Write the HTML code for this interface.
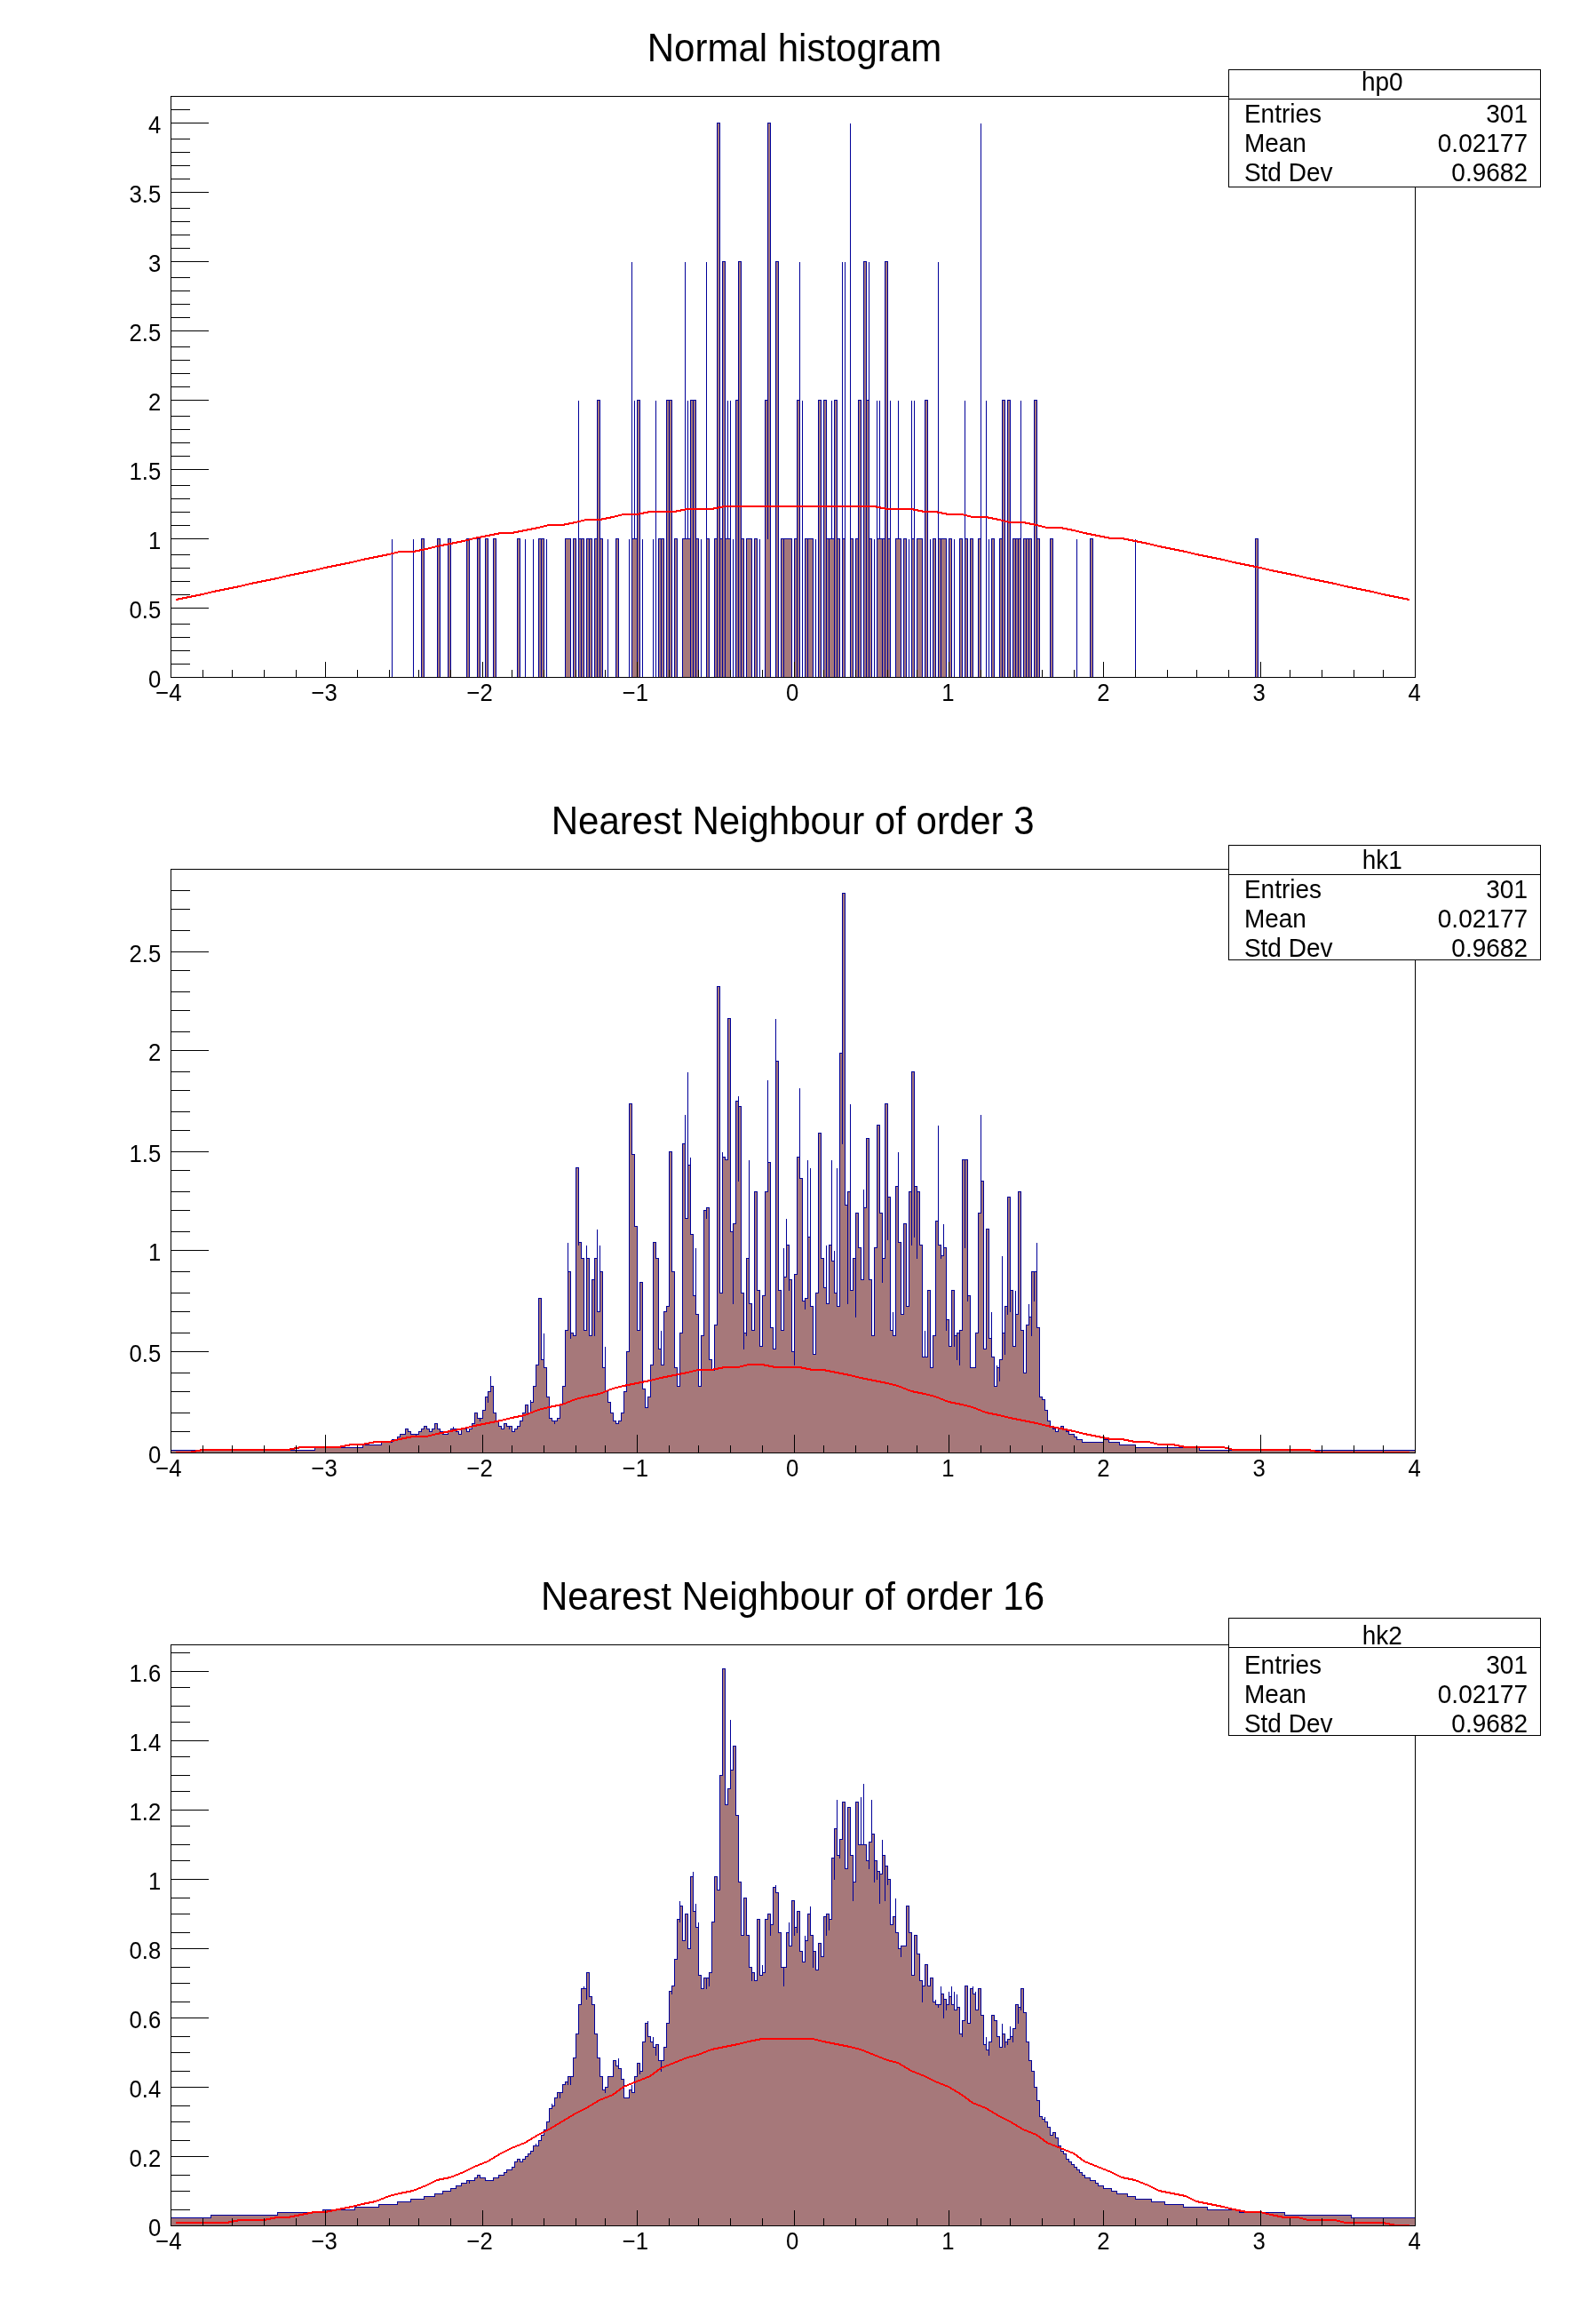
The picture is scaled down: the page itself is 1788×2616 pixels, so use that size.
<!DOCTYPE html><html><head><meta charset="utf-8"><style>html,body{margin:0;padding:0;background:#fff;width:1788px;height:2616px;overflow:hidden}text{will-change:transform}</style></head><body><svg width="1788" height="2616" viewBox="0 0 1788 2616" style="display:block;font-family:'Liberation Sans', sans-serif">
<rect x="0" y="0" width="1788" height="2616" fill="#fff"/>
<defs><clipPath id="cp0"><rect x="192" y="108" width="1402" height="655"/></clipPath><clipPath id="cp1"><rect x="192" y="978" width="1402" height="658"/></clipPath><clipPath id="cp2"><rect x="192" y="1851" width="1402" height="655"/></clipPath></defs>
<g clip-path="url(#cp0)">
<path d="M192.5,762.5L192.5,762.5L441.5,762.5L441.5,606.5L441.5,762.5L465.5,762.5L465.5,606.5L465.5,762.5L474.5,762.5L474.5,606.5L477.5,606.5L477.5,762.5L492.5,762.5L492.5,606.5L495.5,606.5L495.5,762.5L504.5,762.5L504.5,606.5L507.5,606.5L507.5,762.5L525.5,762.5L525.5,606.5L528.5,606.5L528.5,762.5L537.5,762.5L537.5,606.5L540.5,606.5L540.5,762.5L546.5,762.5L546.5,606.5L549.5,606.5L549.5,762.5L555.5,762.5L555.5,606.5L558.5,606.5L558.5,762.5L582.5,762.5L582.5,606.5L585.5,606.5L585.5,762.5L591.5,762.5L591.5,606.5L591.5,762.5L600.5,762.5L600.5,606.5L600.5,762.5L606.5,762.5L606.5,606.5L609.5,606.5L609.5,762.5L609.5,606.5L612.5,606.5L612.5,762.5L615.5,762.5L615.5,606.5L615.5,762.5L636.5,762.5L636.5,606.5L642.5,606.5L642.5,762.5L645.5,762.5L645.5,606.5L648.5,606.5L648.5,762.5L651.5,762.5L651.5,450.5L651.5,606.5L654.5,606.5L654.5,762.5L654.5,606.5L657.5,606.5L657.5,762.5L660.5,762.5L660.5,606.5L663.5,606.5L663.5,762.5L663.5,606.5L666.5,606.5L666.5,762.5L669.5,762.5L669.5,606.5L672.5,606.5L672.5,762.5L672.5,450.5L675.5,450.5L675.5,762.5L675.5,606.5L678.5,606.5L678.5,762.5L684.5,762.5L684.5,606.5L684.5,762.5L693.5,762.5L693.5,606.5L696.5,606.5L696.5,762.5L708.5,762.5L708.5,606.5L708.5,762.5L711.5,762.5L711.5,294.5L711.5,606.5L714.5,606.5L714.5,450.5L714.5,606.5L717.5,606.5L717.5,762.5L717.5,450.5L720.5,450.5L720.5,762.5L723.5,762.5L723.5,606.5L723.5,762.5L735.5,762.5L735.5,606.5L735.5,762.5L738.5,762.5L738.5,450.5L738.5,762.5L741.5,762.5L741.5,606.5L744.5,606.5L744.5,762.5L744.5,606.5L747.5,606.5L747.5,762.5L750.5,762.5L750.5,450.5L753.5,450.5L753.5,762.5L753.5,450.5L756.5,450.5L756.5,762.5L759.5,762.5L759.5,606.5L762.5,606.5L762.5,762.5L768.5,762.5L768.5,606.5L771.5,606.5L771.5,294.5L771.5,606.5L774.5,606.5L774.5,450.5L774.5,606.5L777.5,606.5L777.5,762.5L777.5,450.5L780.5,450.5L780.5,762.5L780.5,450.5L783.5,450.5L783.5,762.5L783.5,606.5L786.5,606.5L786.5,762.5L789.5,762.5L789.5,606.5L789.5,762.5L795.5,762.5L795.5,294.5L795.5,606.5L798.5,606.5L798.5,762.5L804.5,762.5L804.5,606.5L807.5,606.5L807.5,762.5L807.5,138.5L810.5,138.5L810.5,762.5L810.5,606.5L813.5,606.5L813.5,762.5L813.5,294.5L816.5,294.5L816.5,762.5L816.5,606.5L819.5,606.5L819.5,450.5L819.5,606.5L822.5,606.5L822.5,450.5L822.5,762.5L825.5,762.5L825.5,606.5L825.5,762.5L828.5,762.5L828.5,450.5L831.5,450.5L831.5,762.5L831.5,294.5L834.5,294.5L834.5,762.5L834.5,606.5L837.5,606.5L837.5,762.5L840.5,762.5L840.5,606.5L846.5,606.5L846.5,762.5L849.5,762.5L849.5,606.5L852.5,606.5L852.5,762.5L855.5,762.5L855.5,606.5L855.5,762.5L861.5,762.5L861.5,450.5L864.5,450.5L864.5,606.5L864.5,138.5L867.5,138.5L867.5,762.5L873.5,762.5L873.5,294.5L876.5,294.5L876.5,762.5L879.5,762.5L879.5,606.5L882.5,606.5L882.5,762.5L882.5,606.5L891.5,606.5L891.5,762.5L894.5,762.5L894.5,606.5L897.5,606.5L897.5,762.5L897.5,450.5L900.5,450.5L900.5,294.5L900.5,762.5L903.5,762.5L903.5,450.5L903.5,762.5L906.5,762.5L906.5,606.5L909.5,606.5L909.5,762.5L909.5,606.5L915.5,606.5L915.5,762.5L918.5,762.5L918.5,606.5L918.5,762.5L921.5,762.5L921.5,450.5L924.5,450.5L924.5,762.5L927.5,762.5L927.5,450.5L930.5,450.5L930.5,762.5L930.5,606.5L933.5,606.5L933.5,762.5L933.5,606.5L936.5,606.5L936.5,450.5L936.5,606.5L939.5,606.5L939.5,762.5L939.5,450.5L942.5,450.5L942.5,762.5L942.5,606.5L945.5,606.5L945.5,762.5L948.5,762.5L948.5,294.5L948.5,606.5L951.5,606.5L951.5,294.5L951.5,762.5L957.5,762.5L957.5,138.5L957.5,762.5L957.5,606.5L960.5,606.5L960.5,762.5L963.5,762.5L963.5,606.5L966.5,606.5L966.5,762.5L966.5,450.5L969.5,450.5L969.5,762.5L972.5,762.5L972.5,294.5L975.5,294.5L975.5,762.5L975.5,450.5L978.5,450.5L978.5,294.5L978.5,762.5L978.5,606.5L981.5,606.5L981.5,762.5L984.5,762.5L984.5,606.5L984.5,762.5L987.5,762.5L987.5,450.5L987.5,606.5L990.5,606.5L990.5,450.5L990.5,606.5L993.5,606.5L993.5,762.5L993.5,606.5L996.5,606.5L996.5,762.5L996.5,294.5L999.5,294.5L999.5,762.5L999.5,606.5L1002.5,606.5L1002.5,450.5L1002.5,762.5L1008.5,762.5L1008.5,606.5L1011.5,606.5L1011.5,450.5L1011.5,606.5L1014.5,606.5L1014.5,762.5L1017.5,762.5L1017.5,606.5L1020.5,606.5L1020.5,762.5L1023.5,762.5L1023.5,606.5L1023.5,762.5L1026.5,762.5L1026.5,450.5L1026.5,606.5L1029.5,606.5L1029.5,450.5L1029.5,762.5L1032.5,762.5L1032.5,606.5L1038.5,606.5L1038.5,762.5L1041.5,762.5L1041.5,450.5L1044.5,450.5L1044.5,762.5L1047.5,762.5L1047.5,606.5L1047.5,762.5L1050.5,762.5L1050.5,606.5L1053.5,606.5L1053.5,762.5L1056.5,762.5L1056.5,294.5L1056.5,606.5L1059.5,606.5L1059.5,762.5L1059.5,606.5L1065.5,606.5L1065.5,762.5L1068.5,762.5L1068.5,606.5L1071.5,606.5L1071.5,762.5L1074.5,762.5L1074.5,606.5L1074.5,762.5L1080.5,762.5L1080.5,606.5L1083.5,606.5L1083.5,762.5L1086.5,762.5L1086.5,450.5L1086.5,606.5L1089.5,606.5L1089.5,762.5L1092.5,762.5L1092.5,606.5L1095.5,606.5L1095.5,762.5L1101.5,762.5L1101.5,606.5L1104.5,606.5L1104.5,138.5L1104.5,762.5L1110.5,762.5L1110.5,450.5L1110.5,762.5L1113.5,762.5L1113.5,606.5L1113.5,762.5L1116.5,762.5L1116.5,606.5L1119.5,606.5L1119.5,762.5L1125.5,762.5L1125.5,606.5L1128.5,606.5L1128.5,762.5L1128.5,450.5L1131.5,450.5L1131.5,762.5L1134.5,762.5L1134.5,450.5L1137.5,450.5L1137.5,762.5L1140.5,762.5L1140.5,606.5L1143.5,606.5L1143.5,762.5L1143.5,606.5L1146.5,606.5L1146.5,762.5L1146.5,606.5L1149.5,606.5L1149.5,450.5L1149.5,762.5L1152.5,762.5L1152.5,606.5L1155.5,606.5L1155.5,762.5L1155.5,606.5L1158.5,606.5L1158.5,762.5L1158.5,606.5L1161.5,606.5L1161.5,762.5L1164.5,762.5L1164.5,450.5L1167.5,450.5L1167.5,762.5L1167.5,606.5L1170.5,606.5L1170.5,762.5L1182.5,762.5L1182.5,606.5L1185.5,606.5L1185.5,762.5L1212.5,762.5L1212.5,606.5L1212.5,762.5L1227.5,762.5L1227.5,606.5L1230.5,606.5L1230.5,762.5L1278.5,762.5L1278.5,606.5L1278.5,762.5L1413.5,762.5L1413.5,606.5L1416.5,606.5L1416.5,762.5L1593.5,762.5L1593.5,762.5Z" fill="#a6787a" stroke="#000099" stroke-width="1" shape-rendering="crispEdges"/>
<path d="M198,675 L213,672 L228,669 L240,666 L255,663 L270,660 L282,657 L297,654 L312,651 L324,648 L339,645 L354,642 L366,639 L381,636 L396,633 L408,630 L423,627 L438,624 L450,621 L465,621 L480,618 L492,615 L507,612 L522,609 L534,606 L549,603 L564,600 L576,600 L591,597 L606,594 L618,591 L633,591 L648,588 L660,585 L675,585 L690,582 L702,579 L717,579 L732,576 L744,576 L759,576 L774,573 L786,573 L801,573 L816,570 L831,570 L843,570 L858,570 L873,570 L885,570 L900,570 L915,570 L927,570 L942,570 L957,570 L969,570 L984,570 L999,573 L1011,573 L1026,573 L1041,576 L1053,576 L1068,579 L1083,579 L1095,582 L1110,582 L1125,585 L1137,588 L1152,588 L1167,591 L1179,594 L1194,594 L1209,597 L1221,600 L1236,603 L1251,606 L1263,606 L1278,609 L1293,612 L1305,615 L1320,618 L1335,621 L1347,624 L1362,627 L1377,630 L1389,633 L1404,636 L1419,639 L1431,642 L1446,645 L1461,648 L1473,651 L1488,654 L1503,657 L1515,660 L1530,663 L1545,666 L1557,669 L1572,672 L1587,675" fill="none" stroke="#ff0000" stroke-width="2" stroke-linejoin="miter" shape-rendering="crispEdges"/>
</g>
<rect x="192.5" y="108.5" width="1401.0" height="654.0" fill="none" stroke="#000" stroke-width="1" shape-rendering="crispEdges"/>
<path d="M192.5,762.5h42 M192.5,747.5h21 M192.5,732.5h21 M192.5,717.5h21 M192.5,702.5h21 M192.5,684.5h42 M192.5,669.5h21 M192.5,654.5h21 M192.5,639.5h21 M192.5,624.5h21 M192.5,606.5h42 M192.5,591.5h21 M192.5,576.5h21 M192.5,561.5h21 M192.5,546.5h21 M192.5,528.5h42 M192.5,513.5h21 M192.5,498.5h21 M192.5,483.5h21 M192.5,468.5h21 M192.5,450.5h42 M192.5,435.5h21 M192.5,420.5h21 M192.5,405.5h21 M192.5,390.5h21 M192.5,372.5h42 M192.5,357.5h21 M192.5,342.5h21 M192.5,327.5h21 M192.5,312.5h21 M192.5,294.5h42 M192.5,279.5h21 M192.5,264.5h21 M192.5,249.5h21 M192.5,234.5h21 M192.5,216.5h42 M192.5,201.5h21 M192.5,186.5h21 M192.5,171.5h21 M192.5,156.5h21 M192.5,138.5h42 M192.5,123.5h21 M192.5,108.5h21 M192.5,762.5v-18 M228.5,762.5v-9 M261.5,762.5v-9 M297.5,762.5v-9 M333.5,762.5v-9 M366.5,762.5v-18 M402.5,762.5v-9 M438.5,762.5v-9 M471.5,762.5v-9 M507.5,762.5v-9 M543.5,762.5v-18 M576.5,762.5v-9 M612.5,762.5v-9 M648.5,762.5v-9 M681.5,762.5v-9 M717.5,762.5v-18 M753.5,762.5v-9 M786.5,762.5v-9 M822.5,762.5v-9 M858.5,762.5v-9 M894.5,762.5v-18 M927.5,762.5v-9 M963.5,762.5v-9 M999.5,762.5v-9 M1032.5,762.5v-9 M1068.5,762.5v-18 M1104.5,762.5v-9 M1137.5,762.5v-9 M1173.5,762.5v-9 M1209.5,762.5v-9 M1242.5,762.5v-18 M1278.5,762.5v-9 M1314.5,762.5v-9 M1347.5,762.5v-9 M1383.5,762.5v-9 M1419.5,762.5v-18 M1452.5,762.5v-9 M1488.5,762.5v-9 M1524.5,762.5v-9 M1557.5,762.5v-9 M1593.5,762.5v-18" stroke="#000" stroke-width="1" fill="none" shape-rendering="crispEdges"/>
<text x="181.20" y="0" transform="translate(0,774.00) scale(1,1.06)" font-size="25.7" text-anchor="end">0</text>
<text x="181.20" y="0" transform="translate(0,696.00) scale(1,1.06)" font-size="25.7" text-anchor="end">0.5</text>
<text x="181.20" y="0" transform="translate(0,618.00) scale(1,1.06)" font-size="25.7" text-anchor="end">1</text>
<text x="181.20" y="0" transform="translate(0,540.00) scale(1,1.06)" font-size="25.7" text-anchor="end">1.5</text>
<text x="181.20" y="0" transform="translate(0,462.00) scale(1,1.06)" font-size="25.7" text-anchor="end">2</text>
<text x="181.20" y="0" transform="translate(0,384.00) scale(1,1.06)" font-size="25.7" text-anchor="end">2.5</text>
<text x="181.20" y="0" transform="translate(0,306.00) scale(1,1.06)" font-size="25.7" text-anchor="end">3</text>
<text x="181.20" y="0" transform="translate(0,228.00) scale(1,1.06)" font-size="25.7" text-anchor="end">3.5</text>
<text x="181.20" y="0" transform="translate(0,150.00) scale(1,1.06)" font-size="25.7" text-anchor="end">4</text>
<text x="190.00" y="0" transform="translate(0,788.80) scale(1,1.06)" font-size="25.7" text-anchor="middle">−4</text>
<text x="365.12" y="0" transform="translate(0,788.80) scale(1,1.06)" font-size="25.7" text-anchor="middle">−3</text>
<text x="540.25" y="0" transform="translate(0,788.80) scale(1,1.06)" font-size="25.7" text-anchor="middle">−2</text>
<text x="715.38" y="0" transform="translate(0,788.80) scale(1,1.06)" font-size="25.7" text-anchor="middle">−1</text>
<text x="892.20" y="0" transform="translate(0,788.80) scale(1,1.06)" font-size="25.7" text-anchor="middle">0</text>
<text x="1067.33" y="0" transform="translate(0,788.80) scale(1,1.06)" font-size="25.7" text-anchor="middle">1</text>
<text x="1242.45" y="0" transform="translate(0,788.80) scale(1,1.06)" font-size="25.7" text-anchor="middle">2</text>
<text x="1417.58" y="0" transform="translate(0,788.80) scale(1,1.06)" font-size="25.7" text-anchor="middle">3</text>
<text x="1592.70" y="0" transform="translate(0,788.80) scale(1,1.06)" font-size="25.7" text-anchor="middle">4</text>
<text x="894.45" y="0" transform="translate(0,68.80) scale(1,1.06)" font-size="42" text-anchor="middle">Normal histogram</text>
<rect x="1383.5" y="78.5" width="351.0" height="132.0" fill="#fff" stroke="#000" stroke-width="1" shape-rendering="crispEdges"/>
<path d="M1383.5,111.5H1734.5" stroke="#000" stroke-width="1" shape-rendering="crispEdges"/>
<text x="1556.30" y="0" transform="translate(0,101.70) scale(1,1.06)" font-size="28" text-anchor="middle">hp0</text>
<text x="1400.90" y="0" transform="translate(0,137.80) scale(1,1.06)" font-size="28" text-anchor="start">Entries</text>
<text x="1720.00" y="0" transform="translate(0,137.80) scale(1,1.06)" font-size="28" text-anchor="end">301</text>
<text x="1400.90" y="0" transform="translate(0,170.70) scale(1,1.06)" font-size="28" text-anchor="start">Mean</text>
<text x="1720.00" y="0" transform="translate(0,170.70) scale(1,1.06)" font-size="28" text-anchor="end">0.02177</text>
<text x="1400.90" y="0" transform="translate(0,203.60) scale(1,1.06)" font-size="28" text-anchor="start">Std Dev</text>
<text x="1720.00" y="0" transform="translate(0,203.60) scale(1,1.06)" font-size="28" text-anchor="end">0.9682</text>
<g clip-path="url(#cp1)">
<path d="M192.5,1635.5L192.5,1632.5L354.5,1632.5L354.5,1629.5L408.5,1629.5L408.5,1626.5L429.5,1626.5L429.5,1623.5L441.5,1623.5L441.5,1620.5L447.5,1620.5L447.5,1617.5L450.5,1617.5L450.5,1614.5L456.5,1614.5L456.5,1608.5L459.5,1608.5L459.5,1611.5L462.5,1611.5L462.5,1614.5L468.5,1614.5L468.5,1617.5L468.5,1614.5L471.5,1614.5L471.5,1611.5L474.5,1611.5L474.5,1608.5L477.5,1608.5L477.5,1605.5L480.5,1605.5L480.5,1608.5L483.5,1608.5L483.5,1611.5L486.5,1611.5L486.5,1608.5L489.5,1608.5L489.5,1602.5L492.5,1602.5L492.5,1608.5L495.5,1608.5L495.5,1611.5L498.5,1611.5L498.5,1614.5L504.5,1614.5L504.5,1611.5L507.5,1611.5L507.5,1608.5L510.5,1608.5L510.5,1605.5L510.5,1608.5L513.5,1608.5L513.5,1611.5L516.5,1611.5L516.5,1614.5L519.5,1614.5L519.5,1608.5L525.5,1608.5L525.5,1611.5L528.5,1611.5L528.5,1608.5L531.5,1608.5L531.5,1602.5L534.5,1602.5L534.5,1590.5L537.5,1590.5L537.5,1596.5L540.5,1596.5L540.5,1599.5L540.5,1596.5L543.5,1596.5L543.5,1587.5L546.5,1587.5L546.5,1572.5L549.5,1572.5L549.5,1578.5L549.5,1566.5L552.5,1566.5L552.5,1548.5L552.5,1560.5L555.5,1560.5L555.5,1590.5L558.5,1590.5L558.5,1599.5L561.5,1599.5L561.5,1605.5L564.5,1605.5L564.5,1608.5L567.5,1608.5L567.5,1602.5L570.5,1602.5L570.5,1605.5L573.5,1605.5L573.5,1608.5L573.5,1605.5L576.5,1605.5L576.5,1611.5L579.5,1611.5L579.5,1608.5L582.5,1608.5L582.5,1605.5L585.5,1605.5L585.5,1599.5L588.5,1599.5L588.5,1590.5L591.5,1590.5L591.5,1581.5L594.5,1581.5L594.5,1590.5L597.5,1590.5L597.5,1575.5L597.5,1578.5L600.5,1578.5L600.5,1560.5L603.5,1560.5L603.5,1536.5L606.5,1536.5L606.5,1461.5L609.5,1461.5L609.5,1530.5L612.5,1530.5L612.5,1500.5L612.5,1539.5L615.5,1539.5L615.5,1572.5L618.5,1572.5L618.5,1596.5L621.5,1596.5L621.5,1599.5L624.5,1599.5L624.5,1602.5L624.5,1599.5L627.5,1599.5L627.5,1596.5L630.5,1596.5L630.5,1581.5L633.5,1581.5L633.5,1560.5L636.5,1560.5L636.5,1497.5L639.5,1497.5L639.5,1398.5L639.5,1431.5L642.5,1431.5L642.5,1506.5L642.5,1500.5L645.5,1500.5L645.5,1503.5L648.5,1503.5L648.5,1314.5L651.5,1314.5L651.5,1401.5L651.5,1398.5L654.5,1398.5L654.5,1416.5L657.5,1416.5L657.5,1497.5L660.5,1497.5L660.5,1401.5L660.5,1416.5L663.5,1416.5L663.5,1503.5L666.5,1503.5L666.5,1440.5L669.5,1440.5L669.5,1503.5L669.5,1416.5L672.5,1416.5L672.5,1383.5L672.5,1476.5L675.5,1476.5L675.5,1401.5L675.5,1431.5L678.5,1431.5L678.5,1539.5L681.5,1539.5L681.5,1515.5L681.5,1566.5L684.5,1566.5L684.5,1578.5L687.5,1578.5L687.5,1590.5L690.5,1590.5L690.5,1599.5L693.5,1599.5L693.5,1602.5L696.5,1602.5L696.5,1599.5L699.5,1599.5L699.5,1590.5L702.5,1590.5L702.5,1566.5L705.5,1566.5L705.5,1521.5L708.5,1521.5L708.5,1242.5L711.5,1242.5L711.5,1299.5L714.5,1299.5L714.5,1380.5L717.5,1380.5L717.5,1497.5L720.5,1497.5L720.5,1443.5L723.5,1443.5L723.5,1563.5L726.5,1563.5L726.5,1584.5L729.5,1584.5L729.5,1572.5L732.5,1572.5L732.5,1536.5L735.5,1536.5L735.5,1398.5L738.5,1398.5L738.5,1416.5L741.5,1416.5L741.5,1518.5L744.5,1518.5L744.5,1521.5L744.5,1497.5L744.5,1536.5L747.5,1536.5L747.5,1476.5L750.5,1476.5L750.5,1470.5L753.5,1470.5L753.5,1296.5L756.5,1296.5L756.5,1431.5L759.5,1431.5L759.5,1539.5L762.5,1539.5L762.5,1560.5L765.5,1560.5L765.5,1500.5L768.5,1500.5L768.5,1287.5L771.5,1287.5L771.5,1254.5L771.5,1371.5L774.5,1371.5L774.5,1206.5L774.5,1311.5L777.5,1311.5L777.5,1302.5L777.5,1389.5L780.5,1389.5L780.5,1458.5L783.5,1458.5L783.5,1404.5L783.5,1479.5L786.5,1479.5L786.5,1560.5L789.5,1560.5L789.5,1503.5L792.5,1503.5L792.5,1362.5L795.5,1362.5L795.5,1371.5L795.5,1359.5L798.5,1359.5L798.5,1530.5L801.5,1530.5L801.5,1542.5L804.5,1542.5L804.5,1491.5L807.5,1491.5L807.5,1110.5L810.5,1110.5L810.5,1455.5L813.5,1455.5L813.5,1296.5L813.5,1302.5L816.5,1302.5L816.5,1305.5L819.5,1305.5L819.5,1146.5L822.5,1146.5L822.5,1386.5L825.5,1386.5L825.5,1467.5L825.5,1377.5L828.5,1377.5L828.5,1239.5L831.5,1239.5L831.5,1329.5L831.5,1233.5L831.5,1245.5L834.5,1245.5L834.5,1455.5L837.5,1455.5L837.5,1518.5L837.5,1500.5L840.5,1500.5L840.5,1503.5L840.5,1416.5L843.5,1416.5L843.5,1305.5L843.5,1467.5L846.5,1467.5L846.5,1497.5L849.5,1497.5L849.5,1341.5L852.5,1341.5L852.5,1452.5L855.5,1452.5L855.5,1515.5L858.5,1515.5L858.5,1458.5L861.5,1458.5L861.5,1341.5L864.5,1341.5L864.5,1215.5L864.5,1308.5L867.5,1308.5L867.5,1494.5L870.5,1494.5L870.5,1518.5L873.5,1518.5L873.5,1146.5L873.5,1194.5L876.5,1194.5L876.5,1452.5L879.5,1452.5L879.5,1497.5L882.5,1497.5L882.5,1404.5L882.5,1437.5L885.5,1437.5L885.5,1371.5L885.5,1401.5L888.5,1401.5L888.5,1452.5L888.5,1440.5L891.5,1440.5L891.5,1521.5L894.5,1521.5L894.5,1536.5L894.5,1434.5L897.5,1434.5L897.5,1302.5L900.5,1302.5L900.5,1224.5L900.5,1326.5L903.5,1326.5L903.5,1464.5L906.5,1464.5L906.5,1473.5L906.5,1461.5L909.5,1461.5L909.5,1305.5L909.5,1392.5L912.5,1392.5L912.5,1314.5L912.5,1470.5L915.5,1470.5L915.5,1524.5L918.5,1524.5L918.5,1455.5L921.5,1455.5L921.5,1275.5L924.5,1275.5L924.5,1416.5L927.5,1416.5L927.5,1449.5L930.5,1449.5L930.5,1401.5L930.5,1467.5L933.5,1467.5L933.5,1401.5L936.5,1401.5L936.5,1305.5L936.5,1419.5L939.5,1419.5L939.5,1407.5L939.5,1455.5L942.5,1455.5L942.5,1314.5L942.5,1470.5L945.5,1470.5L945.5,1185.5L948.5,1185.5L948.5,1287.5L948.5,1005.5L951.5,1005.5L951.5,1356.5L954.5,1356.5L954.5,1467.5L954.5,1341.5L957.5,1341.5L957.5,1242.5L957.5,1452.5L960.5,1452.5L960.5,1416.5L963.5,1416.5L963.5,1482.5L963.5,1365.5L966.5,1365.5L966.5,1404.5L969.5,1404.5L969.5,1440.5L972.5,1440.5L972.5,1338.5L972.5,1359.5L975.5,1359.5L975.5,1281.5L978.5,1281.5L978.5,1335.5L978.5,1332.5L978.5,1440.5L981.5,1440.5L981.5,1503.5L984.5,1503.5L984.5,1404.5L987.5,1404.5L987.5,1266.5L990.5,1266.5L990.5,1365.5L993.5,1365.5L993.5,1443.5L993.5,1416.5L996.5,1416.5L996.5,1242.5L999.5,1242.5L999.5,1395.5L999.5,1347.5L1002.5,1347.5L1002.5,1497.5L1005.5,1497.5L1005.5,1476.5L1005.5,1503.5L1008.5,1503.5L1008.5,1335.5L1011.5,1335.5L1011.5,1296.5L1011.5,1398.5L1014.5,1398.5L1014.5,1479.5L1017.5,1479.5L1017.5,1377.5L1020.5,1377.5L1020.5,1470.5L1023.5,1470.5L1023.5,1341.5L1026.5,1341.5L1026.5,1401.5L1026.5,1206.5L1029.5,1206.5L1029.5,1392.5L1029.5,1335.5L1032.5,1335.5L1032.5,1416.5L1032.5,1341.5L1035.5,1341.5L1035.5,1401.5L1038.5,1401.5L1038.5,1527.5L1041.5,1527.5L1041.5,1497.5L1041.5,1527.5L1044.5,1527.5L1044.5,1452.5L1047.5,1452.5L1047.5,1539.5L1050.5,1539.5L1050.5,1503.5L1053.5,1503.5L1053.5,1374.5L1056.5,1374.5L1056.5,1266.5L1056.5,1401.5L1059.5,1401.5L1059.5,1416.5L1059.5,1413.5L1062.5,1413.5L1062.5,1377.5L1062.5,1404.5L1065.5,1404.5L1065.5,1497.5L1065.5,1485.5L1068.5,1485.5L1068.5,1515.5L1071.5,1515.5L1071.5,1452.5L1074.5,1452.5L1074.5,1515.5L1074.5,1503.5L1077.5,1503.5L1077.5,1530.5L1077.5,1500.5L1080.5,1500.5L1080.5,1536.5L1080.5,1497.5L1083.5,1497.5L1083.5,1305.5L1086.5,1305.5L1086.5,1404.5L1086.5,1305.5L1089.5,1305.5L1089.5,1464.5L1089.5,1458.5L1092.5,1458.5L1092.5,1539.5L1098.5,1539.5L1098.5,1500.5L1101.5,1500.5L1101.5,1365.5L1104.5,1365.5L1104.5,1254.5L1104.5,1329.5L1107.5,1329.5L1107.5,1518.5L1110.5,1518.5L1110.5,1383.5L1113.5,1383.5L1113.5,1506.5L1116.5,1506.5L1116.5,1476.5L1116.5,1527.5L1119.5,1527.5L1119.5,1560.5L1122.5,1560.5L1122.5,1536.5L1122.5,1539.5L1125.5,1539.5L1125.5,1554.5L1125.5,1530.5L1128.5,1530.5L1128.5,1413.5L1128.5,1500.5L1131.5,1500.5L1131.5,1524.5L1131.5,1470.5L1134.5,1470.5L1134.5,1479.5L1134.5,1347.5L1137.5,1347.5L1137.5,1476.5L1137.5,1452.5L1140.5,1452.5L1140.5,1515.5L1143.5,1515.5L1143.5,1452.5L1143.5,1479.5L1146.5,1479.5L1146.5,1341.5L1149.5,1341.5L1149.5,1425.5L1149.5,1419.5L1149.5,1497.5L1152.5,1497.5L1152.5,1545.5L1155.5,1545.5L1155.5,1491.5L1158.5,1491.5L1158.5,1467.5L1158.5,1482.5L1161.5,1482.5L1161.5,1503.5L1161.5,1431.5L1164.5,1431.5L1164.5,1464.5L1164.5,1431.5L1167.5,1431.5L1167.5,1398.5L1167.5,1494.5L1170.5,1494.5L1170.5,1572.5L1173.5,1572.5L1173.5,1575.5L1176.5,1575.5L1176.5,1587.5L1179.5,1587.5L1179.5,1599.5L1182.5,1599.5L1182.5,1605.5L1185.5,1605.5L1185.5,1608.5L1188.5,1608.5L1188.5,1611.5L1191.5,1611.5L1191.5,1608.5L1194.5,1608.5L1194.5,1605.5L1197.5,1605.5L1197.5,1608.5L1200.5,1608.5L1200.5,1611.5L1203.5,1611.5L1203.5,1614.5L1209.5,1614.5L1209.5,1617.5L1212.5,1617.5L1212.5,1620.5L1218.5,1620.5L1218.5,1623.5L1242.5,1623.5L1242.5,1620.5L1248.5,1620.5L1248.5,1623.5L1260.5,1623.5L1260.5,1626.5L1278.5,1626.5L1278.5,1629.5L1350.5,1629.5L1350.5,1632.5L1593.5,1632.5L1593.5,1635.5Z" fill="#a6787a" stroke="#000099" stroke-width="1" shape-rendering="crispEdges"/>
<path d="M198,1635 L213,1635 L228,1632 L240,1632 L255,1632 L270,1632 L282,1632 L297,1632 L312,1632 L324,1632 L339,1629 L354,1629 L366,1629 L381,1629 L396,1626 L408,1626 L423,1623 L438,1623 L450,1620 L465,1617 L480,1617 L492,1614 L507,1611 L522,1608 L534,1605 L549,1602 L564,1599 L576,1596 L591,1593 L606,1587 L618,1584 L633,1581 L648,1575 L660,1572 L675,1569 L690,1563 L702,1560 L717,1557 L732,1554 L744,1551 L759,1548 L774,1545 L786,1542 L801,1542 L816,1539 L831,1539 L843,1536 L858,1536 L873,1539 L885,1539 L900,1539 L915,1542 L927,1542 L942,1545 L957,1548 L969,1551 L984,1554 L999,1557 L1011,1560 L1026,1566 L1041,1569 L1053,1572 L1068,1578 L1083,1581 L1095,1584 L1110,1590 L1125,1593 L1137,1596 L1152,1599 L1167,1602 L1179,1605 L1194,1608 L1209,1611 L1221,1614 L1236,1617 L1251,1620 L1263,1620 L1278,1623 L1293,1623 L1305,1626 L1320,1626 L1335,1629 L1347,1629 L1362,1629 L1377,1629 L1389,1632 L1404,1632 L1419,1632 L1431,1632 L1446,1632 L1461,1632 L1473,1632 L1488,1635 L1503,1635 L1515,1635 L1530,1635 L1545,1635 L1557,1635 L1572,1635 L1587,1635" fill="none" stroke="#ff0000" stroke-width="2" stroke-linejoin="miter" shape-rendering="crispEdges"/>
</g>
<rect x="192.5" y="978.5" width="1401.0" height="657.0" fill="none" stroke="#000" stroke-width="1" shape-rendering="crispEdges"/>
<path d="M192.5,1635.5h42 M192.5,1611.5h21 M192.5,1590.5h21 M192.5,1566.5h21 M192.5,1545.5h21 M192.5,1521.5h42 M192.5,1500.5h21 M192.5,1476.5h21 M192.5,1455.5h21 M192.5,1431.5h21 M192.5,1407.5h42 M192.5,1386.5h21 M192.5,1362.5h21 M192.5,1341.5h21 M192.5,1317.5h21 M192.5,1296.5h42 M192.5,1272.5h21 M192.5,1251.5h21 M192.5,1227.5h21 M192.5,1206.5h21 M192.5,1182.5h42 M192.5,1161.5h21 M192.5,1137.5h21 M192.5,1116.5h21 M192.5,1092.5h21 M192.5,1071.5h42 M192.5,1047.5h21 M192.5,1023.5h21 M192.5,1002.5h21 M192.5,978.5h21 M192.5,1635.5v-21 M228.5,1635.5v-9 M261.5,1635.5v-9 M297.5,1635.5v-9 M333.5,1635.5v-9 M366.5,1635.5v-21 M402.5,1635.5v-9 M438.5,1635.5v-9 M471.5,1635.5v-9 M507.5,1635.5v-9 M543.5,1635.5v-21 M576.5,1635.5v-9 M612.5,1635.5v-9 M648.5,1635.5v-9 M681.5,1635.5v-9 M717.5,1635.5v-21 M753.5,1635.5v-9 M786.5,1635.5v-9 M822.5,1635.5v-9 M858.5,1635.5v-9 M894.5,1635.5v-21 M927.5,1635.5v-9 M963.5,1635.5v-9 M999.5,1635.5v-9 M1032.5,1635.5v-9 M1068.5,1635.5v-21 M1104.5,1635.5v-9 M1137.5,1635.5v-9 M1173.5,1635.5v-9 M1209.5,1635.5v-9 M1242.5,1635.5v-21 M1278.5,1635.5v-9 M1314.5,1635.5v-9 M1347.5,1635.5v-9 M1383.5,1635.5v-9 M1419.5,1635.5v-21 M1452.5,1635.5v-9 M1488.5,1635.5v-9 M1524.5,1635.5v-9 M1557.5,1635.5v-9 M1593.5,1635.5v-21" stroke="#000" stroke-width="1" fill="none" shape-rendering="crispEdges"/>
<text x="181.20" y="0" transform="translate(0,1647.00) scale(1,1.06)" font-size="25.7" text-anchor="end">0</text>
<text x="181.20" y="0" transform="translate(0,1533.00) scale(1,1.06)" font-size="25.7" text-anchor="end">0.5</text>
<text x="181.20" y="0" transform="translate(0,1419.00) scale(1,1.06)" font-size="25.7" text-anchor="end">1</text>
<text x="181.20" y="0" transform="translate(0,1308.00) scale(1,1.06)" font-size="25.7" text-anchor="end">1.5</text>
<text x="181.20" y="0" transform="translate(0,1194.00) scale(1,1.06)" font-size="25.7" text-anchor="end">2</text>
<text x="181.20" y="0" transform="translate(0,1083.00) scale(1,1.06)" font-size="25.7" text-anchor="end">2.5</text>
<text x="190.00" y="0" transform="translate(0,1661.80) scale(1,1.06)" font-size="25.7" text-anchor="middle">−4</text>
<text x="365.12" y="0" transform="translate(0,1661.80) scale(1,1.06)" font-size="25.7" text-anchor="middle">−3</text>
<text x="540.25" y="0" transform="translate(0,1661.80) scale(1,1.06)" font-size="25.7" text-anchor="middle">−2</text>
<text x="715.38" y="0" transform="translate(0,1661.80) scale(1,1.06)" font-size="25.7" text-anchor="middle">−1</text>
<text x="892.20" y="0" transform="translate(0,1661.80) scale(1,1.06)" font-size="25.7" text-anchor="middle">0</text>
<text x="1067.33" y="0" transform="translate(0,1661.80) scale(1,1.06)" font-size="25.7" text-anchor="middle">1</text>
<text x="1242.45" y="0" transform="translate(0,1661.80) scale(1,1.06)" font-size="25.7" text-anchor="middle">2</text>
<text x="1417.58" y="0" transform="translate(0,1661.80) scale(1,1.06)" font-size="25.7" text-anchor="middle">3</text>
<text x="1592.70" y="0" transform="translate(0,1661.80) scale(1,1.06)" font-size="25.7" text-anchor="middle">4</text>
<text x="892.70" y="0" transform="translate(0,938.80) scale(1,1.06)" font-size="42" text-anchor="middle">Nearest Neighbour of order 3</text>
<rect x="1383.5" y="951.5" width="351.0" height="129.0" fill="#fff" stroke="#000" stroke-width="1" shape-rendering="crispEdges"/>
<path d="M1383.5,984.5H1734.5" stroke="#000" stroke-width="1" shape-rendering="crispEdges"/>
<text x="1556.30" y="0" transform="translate(0,977.70) scale(1,1.06)" font-size="28" text-anchor="middle">hk1</text>
<text x="1400.90" y="0" transform="translate(0,1010.80) scale(1,1.06)" font-size="28" text-anchor="start">Entries</text>
<text x="1720.00" y="0" transform="translate(0,1010.80) scale(1,1.06)" font-size="28" text-anchor="end">301</text>
<text x="1400.90" y="0" transform="translate(0,1043.70) scale(1,1.06)" font-size="28" text-anchor="start">Mean</text>
<text x="1720.00" y="0" transform="translate(0,1043.70) scale(1,1.06)" font-size="28" text-anchor="end">0.02177</text>
<text x="1400.90" y="0" transform="translate(0,1076.60) scale(1,1.06)" font-size="28" text-anchor="start">Std Dev</text>
<text x="1720.00" y="0" transform="translate(0,1076.60) scale(1,1.06)" font-size="28" text-anchor="end">0.9682</text>
<g clip-path="url(#cp2)">
<path d="M192.5,2505.5L192.5,2496.5L237.5,2496.5L237.5,2493.5L312.5,2493.5L312.5,2490.5L363.5,2490.5L363.5,2487.5L399.5,2487.5L399.5,2484.5L426.5,2484.5L426.5,2481.5L447.5,2481.5L447.5,2478.5L462.5,2478.5L462.5,2475.5L477.5,2475.5L477.5,2472.5L489.5,2472.5L489.5,2469.5L498.5,2469.5L498.5,2466.5L507.5,2466.5L507.5,2463.5L513.5,2463.5L513.5,2460.5L519.5,2460.5L519.5,2457.5L525.5,2457.5L525.5,2454.5L528.5,2454.5L528.5,2457.5L528.5,2454.5L534.5,2454.5L534.5,2451.5L537.5,2451.5L537.5,2448.5L540.5,2448.5L540.5,2451.5L546.5,2451.5L546.5,2454.5L555.5,2454.5L555.5,2451.5L561.5,2451.5L561.5,2448.5L567.5,2448.5L567.5,2445.5L570.5,2445.5L570.5,2442.5L576.5,2442.5L576.5,2439.5L579.5,2439.5L579.5,2433.5L582.5,2433.5L582.5,2430.5L585.5,2430.5L585.5,2433.5L588.5,2433.5L588.5,2430.5L591.5,2430.5L591.5,2427.5L594.5,2427.5L594.5,2424.5L597.5,2424.5L597.5,2421.5L600.5,2421.5L600.5,2415.5L603.5,2415.5L603.5,2412.5L603.5,2415.5L606.5,2415.5L606.5,2409.5L609.5,2409.5L609.5,2403.5L612.5,2403.5L612.5,2397.5L615.5,2397.5L615.5,2388.5L618.5,2388.5L618.5,2373.5L621.5,2373.5L621.5,2367.5L621.5,2370.5L624.5,2370.5L624.5,2361.5L627.5,2361.5L627.5,2355.5L630.5,2355.5L630.5,2361.5L630.5,2355.5L633.5,2355.5L633.5,2346.5L636.5,2346.5L636.5,2343.5L639.5,2343.5L639.5,2346.5L639.5,2337.5L642.5,2337.5L642.5,2346.5L642.5,2337.5L645.5,2337.5L645.5,2316.5L648.5,2316.5L648.5,2289.5L651.5,2289.5L651.5,2256.5L654.5,2256.5L654.5,2238.5L657.5,2238.5L657.5,2235.5L657.5,2238.5L660.5,2238.5L660.5,2250.5L660.5,2220.5L663.5,2220.5L663.5,2247.5L666.5,2247.5L666.5,2256.5L669.5,2256.5L669.5,2289.5L672.5,2289.5L672.5,2316.5L675.5,2316.5L675.5,2337.5L678.5,2337.5L678.5,2352.5L681.5,2352.5L681.5,2355.5L681.5,2349.5L684.5,2349.5L684.5,2337.5L690.5,2337.5L690.5,2319.5L693.5,2319.5L693.5,2325.5L696.5,2325.5L696.5,2316.5L696.5,2328.5L699.5,2328.5L699.5,2340.5L702.5,2340.5L702.5,2361.5L708.5,2361.5L708.5,2352.5L711.5,2352.5L711.5,2346.5L711.5,2355.5L714.5,2355.5L714.5,2337.5L717.5,2337.5L717.5,2322.5L720.5,2322.5L720.5,2334.5L720.5,2331.5L723.5,2331.5L723.5,2298.5L726.5,2298.5L726.5,2277.5L729.5,2277.5L729.5,2274.5L729.5,2292.5L732.5,2292.5L732.5,2298.5L735.5,2298.5L735.5,2292.5L735.5,2304.5L738.5,2304.5L738.5,2313.5L738.5,2301.5L741.5,2301.5L741.5,2319.5L744.5,2319.5L744.5,2331.5L744.5,2319.5L747.5,2319.5L747.5,2304.5L750.5,2304.5L750.5,2277.5L753.5,2277.5L753.5,2241.5L756.5,2241.5L756.5,2244.5L756.5,2235.5L759.5,2235.5L759.5,2205.5L762.5,2205.5L762.5,2160.5L765.5,2160.5L765.5,2163.5L765.5,2139.5L765.5,2145.5L768.5,2145.5L768.5,2184.5L771.5,2184.5L771.5,2154.5L774.5,2154.5L774.5,2193.5L777.5,2193.5L777.5,2112.5L780.5,2112.5L780.5,2106.5L780.5,2151.5L783.5,2151.5L783.5,2142.5L783.5,2169.5L786.5,2169.5L786.5,2163.5L786.5,2223.5L789.5,2223.5L789.5,2238.5L792.5,2238.5L792.5,2226.5L795.5,2226.5L795.5,2238.5L795.5,2226.5L798.5,2226.5L798.5,2235.5L798.5,2220.5L801.5,2220.5L801.5,2163.5L804.5,2163.5L804.5,2112.5L807.5,2112.5L807.5,2127.5L810.5,2127.5L810.5,1998.5L813.5,1998.5L813.5,1878.5L816.5,1878.5L816.5,2031.5L819.5,2031.5L819.5,2013.5L822.5,2013.5L822.5,1935.5L822.5,1992.5L825.5,1992.5L825.5,1965.5L828.5,1965.5L828.5,2043.5L831.5,2043.5L831.5,2103.5L831.5,2091.5L831.5,2118.5L834.5,2118.5L834.5,2178.5L837.5,2178.5L837.5,2136.5L840.5,2136.5L840.5,2178.5L843.5,2178.5L843.5,2214.5L846.5,2214.5L846.5,2229.5L846.5,2220.5L849.5,2220.5L849.5,2229.5L852.5,2229.5L852.5,2160.5L855.5,2160.5L855.5,2223.5L858.5,2223.5L858.5,2211.5L858.5,2220.5L861.5,2220.5L861.5,2160.5L864.5,2160.5L864.5,2154.5L867.5,2154.5L867.5,2178.5L867.5,2166.5L870.5,2166.5L870.5,2124.5L873.5,2124.5L873.5,2127.5L873.5,2121.5L873.5,2130.5L876.5,2130.5L876.5,2175.5L879.5,2175.5L879.5,2214.5L882.5,2214.5L882.5,2235.5L882.5,2214.5L885.5,2214.5L885.5,2175.5L888.5,2175.5L888.5,2163.5L888.5,2190.5L891.5,2190.5L891.5,2139.5L894.5,2139.5L894.5,2178.5L894.5,2160.5L894.5,2169.5L897.5,2169.5L897.5,2175.5L897.5,2151.5L900.5,2151.5L900.5,2196.5L903.5,2196.5L903.5,2208.5L906.5,2208.5L906.5,2178.5L906.5,2184.5L909.5,2184.5L909.5,2154.5L912.5,2154.5L912.5,2145.5L912.5,2178.5L915.5,2178.5L915.5,2214.5L915.5,2196.5L918.5,2196.5L918.5,2217.5L921.5,2217.5L921.5,2187.5L924.5,2187.5L924.5,2202.5L927.5,2202.5L927.5,2157.5L930.5,2157.5L930.5,2178.5L930.5,2154.5L933.5,2154.5L933.5,2172.5L933.5,2160.5L936.5,2160.5L936.5,2091.5L939.5,2091.5L939.5,2115.5L939.5,2058.5L942.5,2058.5L942.5,2025.5L942.5,2088.5L945.5,2088.5L945.5,2091.5L945.5,2070.5L948.5,2070.5L948.5,2028.5L951.5,2028.5L951.5,2103.5L954.5,2103.5L954.5,2034.5L957.5,2034.5L957.5,2073.5L957.5,2064.5L957.5,2088.5L960.5,2088.5L960.5,2139.5L960.5,2118.5L963.5,2118.5L963.5,2028.5L966.5,2028.5L966.5,2076.5L969.5,2076.5L969.5,2022.5L969.5,2076.5L972.5,2076.5L972.5,2007.5L972.5,2076.5L975.5,2076.5L975.5,2094.5L978.5,2094.5L978.5,2103.5L978.5,2073.5L981.5,2073.5L981.5,2025.5L981.5,2064.5L984.5,2064.5L984.5,2118.5L984.5,2094.5L987.5,2094.5L987.5,2115.5L987.5,2106.5L990.5,2106.5L990.5,2142.5L990.5,2109.5L993.5,2109.5L993.5,2070.5L993.5,2088.5L996.5,2088.5L996.5,2139.5L996.5,2100.5L999.5,2100.5L999.5,2121.5L999.5,2115.5L1002.5,2115.5L1002.5,2166.5L1005.5,2166.5L1005.5,2157.5L1008.5,2157.5L1008.5,2136.5L1008.5,2175.5L1011.5,2175.5L1011.5,2193.5L1014.5,2193.5L1014.5,2202.5L1014.5,2190.5L1020.5,2190.5L1020.5,2145.5L1023.5,2145.5L1023.5,2175.5L1026.5,2175.5L1026.5,2223.5L1029.5,2223.5L1029.5,2178.5L1032.5,2178.5L1032.5,2199.5L1035.5,2199.5L1035.5,2229.5L1038.5,2229.5L1038.5,2253.5L1038.5,2235.5L1041.5,2235.5L1041.5,2211.5L1041.5,2223.5L1041.5,2211.5L1044.5,2211.5L1044.5,2235.5L1047.5,2235.5L1047.5,2226.5L1050.5,2226.5L1050.5,2253.5L1053.5,2253.5L1053.5,2250.5L1053.5,2256.5L1056.5,2256.5L1056.5,2259.5L1056.5,2256.5L1059.5,2256.5L1059.5,2235.5L1059.5,2244.5L1062.5,2244.5L1062.5,2271.5L1062.5,2250.5L1065.5,2250.5L1065.5,2262.5L1065.5,2256.5L1068.5,2256.5L1068.5,2241.5L1068.5,2247.5L1071.5,2247.5L1071.5,2235.5L1071.5,2256.5L1074.5,2256.5L1074.5,2241.5L1074.5,2262.5L1077.5,2262.5L1077.5,2244.5L1077.5,2259.5L1080.5,2259.5L1080.5,2289.5L1083.5,2289.5L1083.5,2292.5L1083.5,2274.5L1086.5,2274.5L1086.5,2235.5L1089.5,2235.5L1089.5,2277.5L1092.5,2277.5L1092.5,2238.5L1095.5,2238.5L1095.5,2235.5L1095.5,2244.5L1098.5,2244.5L1098.5,2241.5L1098.5,2262.5L1101.5,2262.5L1101.5,2238.5L1104.5,2238.5L1104.5,2268.5L1107.5,2268.5L1107.5,2301.5L1110.5,2301.5L1110.5,2292.5L1110.5,2307.5L1113.5,2307.5L1113.5,2313.5L1113.5,2298.5L1116.5,2298.5L1116.5,2268.5L1119.5,2268.5L1119.5,2274.5L1122.5,2274.5L1122.5,2292.5L1125.5,2292.5L1125.5,2304.5L1128.5,2304.5L1128.5,2277.5L1128.5,2289.5L1131.5,2289.5L1131.5,2304.5L1131.5,2298.5L1134.5,2298.5L1134.5,2301.5L1134.5,2295.5L1137.5,2295.5L1137.5,2280.5L1137.5,2292.5L1140.5,2292.5L1140.5,2298.5L1140.5,2283.5L1143.5,2283.5L1143.5,2256.5L1146.5,2256.5L1146.5,2277.5L1146.5,2259.5L1149.5,2259.5L1149.5,2262.5L1149.5,2238.5L1152.5,2238.5L1152.5,2265.5L1155.5,2265.5L1155.5,2298.5L1158.5,2298.5L1158.5,2319.5L1161.5,2319.5L1161.5,2331.5L1164.5,2331.5L1164.5,2349.5L1167.5,2349.5L1167.5,2364.5L1170.5,2364.5L1170.5,2382.5L1173.5,2382.5L1173.5,2385.5L1176.5,2385.5L1176.5,2382.5L1176.5,2388.5L1179.5,2388.5L1179.5,2394.5L1182.5,2394.5L1182.5,2403.5L1185.5,2403.5L1185.5,2400.5L1188.5,2400.5L1188.5,2406.5L1191.5,2406.5L1191.5,2415.5L1194.5,2415.5L1194.5,2421.5L1197.5,2421.5L1197.5,2424.5L1200.5,2424.5L1200.5,2430.5L1203.5,2430.5L1203.5,2433.5L1206.5,2433.5L1206.5,2436.5L1209.5,2436.5L1209.5,2439.5L1212.5,2439.5L1212.5,2442.5L1215.5,2442.5L1215.5,2445.5L1218.5,2445.5L1218.5,2448.5L1221.5,2448.5L1221.5,2451.5L1227.5,2451.5L1227.5,2454.5L1233.5,2454.5L1233.5,2457.5L1236.5,2457.5L1236.5,2460.5L1242.5,2460.5L1242.5,2463.5L1251.5,2463.5L1251.5,2466.5L1257.5,2466.5L1257.5,2469.5L1269.5,2469.5L1269.5,2472.5L1278.5,2472.5L1278.5,2475.5L1296.5,2475.5L1296.5,2478.5L1311.5,2478.5L1311.5,2481.5L1332.5,2481.5L1332.5,2484.5L1359.5,2484.5L1359.5,2487.5L1395.5,2487.5L1395.5,2490.5L1446.5,2490.5L1446.5,2493.5L1521.5,2493.5L1521.5,2496.5L1593.5,2496.5L1593.5,2505.5Z" fill="#a6787a" stroke="#000099" stroke-width="1" shape-rendering="crispEdges"/>
<path d="M198,2502 L213,2502 L228,2502 L240,2502 L255,2502 L270,2499 L282,2499 L297,2499 L312,2496 L324,2496 L339,2493 L354,2490 L366,2490 L381,2487 L396,2484 L408,2481 L423,2478 L438,2472 L450,2469 L465,2466 L480,2460 L492,2454 L507,2451 L522,2445 L534,2439 L549,2433 L564,2424 L576,2418 L591,2412 L606,2403 L618,2397 L633,2388 L648,2379 L660,2373 L675,2364 L690,2358 L702,2349 L717,2343 L732,2337 L744,2328 L759,2322 L774,2316 L786,2313 L801,2307 L816,2304 L831,2301 L843,2298 L858,2295 L873,2295 L885,2295 L900,2295 L915,2295 L927,2298 L942,2301 L957,2304 L969,2307 L984,2313 L999,2319 L1011,2322 L1026,2331 L1041,2337 L1053,2343 L1068,2349 L1083,2358 L1095,2367 L1110,2373 L1125,2382 L1137,2388 L1152,2397 L1167,2403 L1179,2412 L1194,2418 L1209,2424 L1221,2433 L1236,2439 L1251,2445 L1263,2451 L1278,2454 L1293,2460 L1305,2466 L1320,2469 L1335,2472 L1347,2478 L1362,2481 L1377,2484 L1389,2487 L1404,2490 L1419,2490 L1431,2493 L1446,2496 L1461,2496 L1473,2499 L1488,2499 L1503,2499 L1515,2502 L1530,2502 L1545,2502 L1557,2502 L1572,2505 L1587,2505" fill="none" stroke="#ff0000" stroke-width="2" stroke-linejoin="miter" shape-rendering="crispEdges"/>
</g>
<rect x="192.5" y="1851.5" width="1401.0" height="654.0" fill="none" stroke="#000" stroke-width="1" shape-rendering="crispEdges"/>
<path d="M192.5,2505.5h42 M192.5,2487.5h21 M192.5,2466.5h21 M192.5,2448.5h21 M192.5,2427.5h42 M192.5,2409.5h21 M192.5,2388.5h21 M192.5,2370.5h21 M192.5,2349.5h42 M192.5,2331.5h21 M192.5,2310.5h21 M192.5,2292.5h21 M192.5,2271.5h42 M192.5,2253.5h21 M192.5,2232.5h21 M192.5,2214.5h21 M192.5,2193.5h42 M192.5,2175.5h21 M192.5,2154.5h21 M192.5,2136.5h21 M192.5,2115.5h42 M192.5,2094.5h21 M192.5,2076.5h21 M192.5,2055.5h21 M192.5,2037.5h42 M192.5,2016.5h21 M192.5,1998.5h21 M192.5,1977.5h21 M192.5,1959.5h42 M192.5,1938.5h21 M192.5,1920.5h21 M192.5,1899.5h21 M192.5,1881.5h42 M192.5,1860.5h21 M192.5,2505.5v-18 M228.5,2505.5v-9 M261.5,2505.5v-9 M297.5,2505.5v-9 M333.5,2505.5v-9 M366.5,2505.5v-18 M402.5,2505.5v-9 M438.5,2505.5v-9 M471.5,2505.5v-9 M507.5,2505.5v-9 M543.5,2505.5v-18 M576.5,2505.5v-9 M612.5,2505.5v-9 M648.5,2505.5v-9 M681.5,2505.5v-9 M717.5,2505.5v-18 M753.5,2505.5v-9 M786.5,2505.5v-9 M822.5,2505.5v-9 M858.5,2505.5v-9 M894.5,2505.5v-18 M927.5,2505.5v-9 M963.5,2505.5v-9 M999.5,2505.5v-9 M1032.5,2505.5v-9 M1068.5,2505.5v-18 M1104.5,2505.5v-9 M1137.5,2505.5v-9 M1173.5,2505.5v-9 M1209.5,2505.5v-9 M1242.5,2505.5v-18 M1278.5,2505.5v-9 M1314.5,2505.5v-9 M1347.5,2505.5v-9 M1383.5,2505.5v-9 M1419.5,2505.5v-18 M1452.5,2505.5v-9 M1488.5,2505.5v-9 M1524.5,2505.5v-9 M1557.5,2505.5v-9 M1593.5,2505.5v-18" stroke="#000" stroke-width="1" fill="none" shape-rendering="crispEdges"/>
<text x="181.20" y="0" transform="translate(0,2517.00) scale(1,1.06)" font-size="25.7" text-anchor="end">0</text>
<text x="181.20" y="0" transform="translate(0,2439.00) scale(1,1.06)" font-size="25.7" text-anchor="end">0.2</text>
<text x="181.20" y="0" transform="translate(0,2361.00) scale(1,1.06)" font-size="25.7" text-anchor="end">0.4</text>
<text x="181.20" y="0" transform="translate(0,2283.00) scale(1,1.06)" font-size="25.7" text-anchor="end">0.6</text>
<text x="181.20" y="0" transform="translate(0,2205.00) scale(1,1.06)" font-size="25.7" text-anchor="end">0.8</text>
<text x="181.20" y="0" transform="translate(0,2127.00) scale(1,1.06)" font-size="25.7" text-anchor="end">1</text>
<text x="181.20" y="0" transform="translate(0,2049.00) scale(1,1.06)" font-size="25.7" text-anchor="end">1.2</text>
<text x="181.20" y="0" transform="translate(0,1971.00) scale(1,1.06)" font-size="25.7" text-anchor="end">1.4</text>
<text x="181.20" y="0" transform="translate(0,1893.00) scale(1,1.06)" font-size="25.7" text-anchor="end">1.6</text>
<text x="190.00" y="0" transform="translate(0,2531.80) scale(1,1.06)" font-size="25.7" text-anchor="middle">−4</text>
<text x="365.12" y="0" transform="translate(0,2531.80) scale(1,1.06)" font-size="25.7" text-anchor="middle">−3</text>
<text x="540.25" y="0" transform="translate(0,2531.80) scale(1,1.06)" font-size="25.7" text-anchor="middle">−2</text>
<text x="715.38" y="0" transform="translate(0,2531.80) scale(1,1.06)" font-size="25.7" text-anchor="middle">−1</text>
<text x="892.20" y="0" transform="translate(0,2531.80) scale(1,1.06)" font-size="25.7" text-anchor="middle">0</text>
<text x="1067.33" y="0" transform="translate(0,2531.80) scale(1,1.06)" font-size="25.7" text-anchor="middle">1</text>
<text x="1242.45" y="0" transform="translate(0,2531.80) scale(1,1.06)" font-size="25.7" text-anchor="middle">2</text>
<text x="1417.58" y="0" transform="translate(0,2531.80) scale(1,1.06)" font-size="25.7" text-anchor="middle">3</text>
<text x="1592.70" y="0" transform="translate(0,2531.80) scale(1,1.06)" font-size="25.7" text-anchor="middle">4</text>
<text x="892.50" y="0" transform="translate(0,1811.80) scale(1,1.06)" font-size="42" text-anchor="middle">Nearest Neighbour of order 16</text>
<rect x="1383.5" y="1821.5" width="351.0" height="132.0" fill="#fff" stroke="#000" stroke-width="1" shape-rendering="crispEdges"/>
<path d="M1383.5,1854.5H1734.5" stroke="#000" stroke-width="1" shape-rendering="crispEdges"/>
<text x="1556.30" y="0" transform="translate(0,1850.70) scale(1,1.06)" font-size="28" text-anchor="middle">hk2</text>
<text x="1400.90" y="0" transform="translate(0,1883.80) scale(1,1.06)" font-size="28" text-anchor="start">Entries</text>
<text x="1720.00" y="0" transform="translate(0,1883.80) scale(1,1.06)" font-size="28" text-anchor="end">301</text>
<text x="1400.90" y="0" transform="translate(0,1916.70) scale(1,1.06)" font-size="28" text-anchor="start">Mean</text>
<text x="1720.00" y="0" transform="translate(0,1916.70) scale(1,1.06)" font-size="28" text-anchor="end">0.02177</text>
<text x="1400.90" y="0" transform="translate(0,1949.80) scale(1,1.06)" font-size="28" text-anchor="start">Std Dev</text>
<text x="1720.00" y="0" transform="translate(0,1949.80) scale(1,1.06)" font-size="28" text-anchor="end">0.9682</text>
</svg></body></html>
